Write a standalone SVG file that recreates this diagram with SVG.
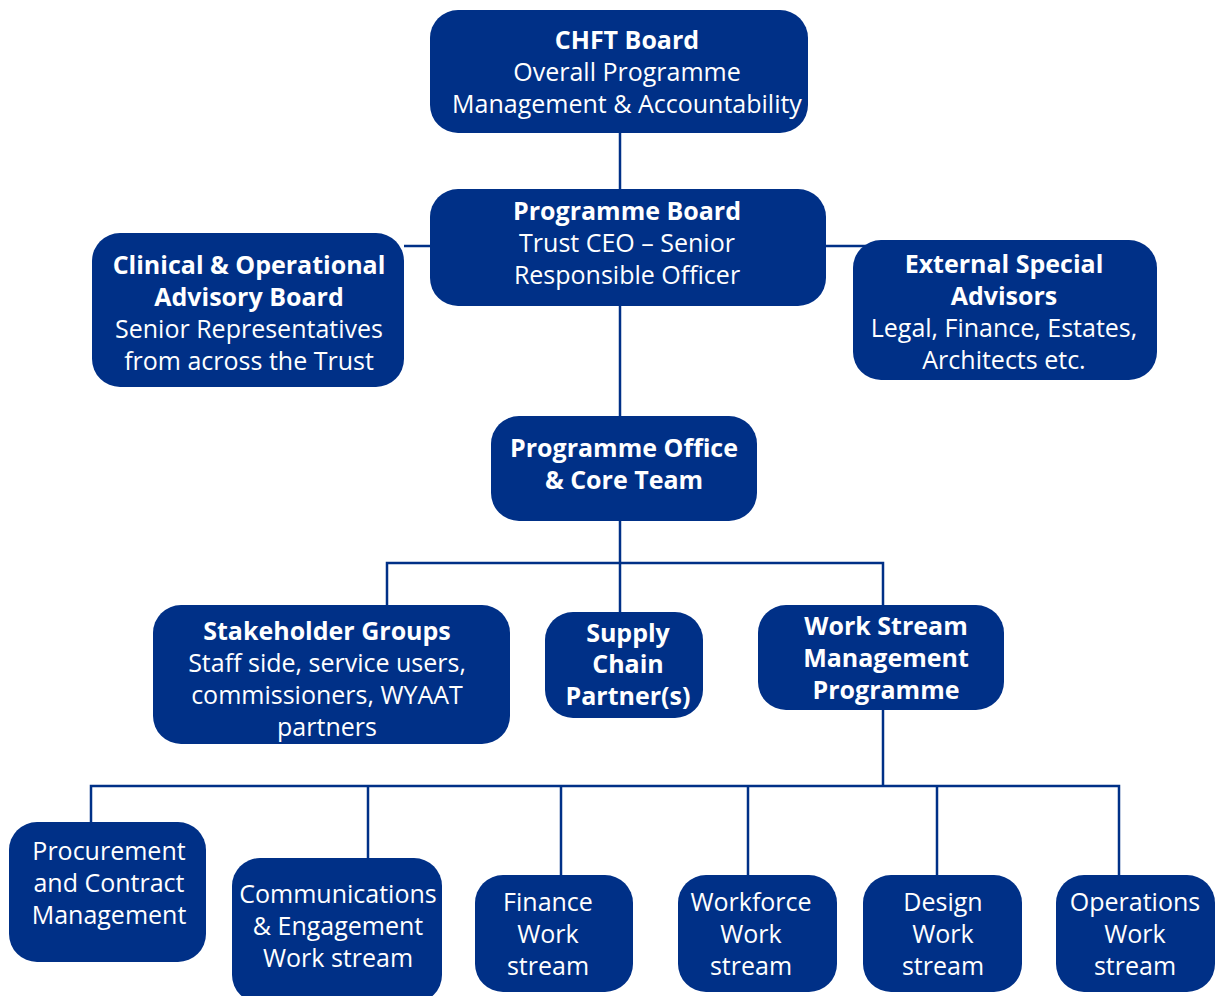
<svg xmlns="http://www.w3.org/2000/svg" width="1216" height="996" viewBox="0 0 1216 996">
<style>
.box{fill:#003087}
.t{font-family:"Open Sans","Noto Sans",sans-serif;font-size:25px;fill:#fff;text-anchor:middle}
.b{font-weight:bold}
.c{stroke:#003087;stroke-width:2.5;fill:none}
</style>
<rect width="1216" height="996" fill="#fff"/>
<g id="connectors" class="c">
<path d="M620 133V189"/>
<path d="M404 246H430"/>
<path d="M826 246H866"/>
<path d="M620 306V416"/>
<path d="M620 521V612"/>
<path d="M387 605V563H883V605"/>
<path d="M883 710V786"/>
<path d="M91 822V786H1119V875"/>
<path d="M368 786V858"/>
<path d="M561 786V875"/>
<path d="M748 786V875"/>
<path d="M937 786V875"/>
</g>
<g id="chft"><rect class="box" x="430" y="10" width="378" height="123" rx="28"/>
<text class="t" x="627" y="49"><tspan class="b">CHFT Board</tspan><tspan x="627" dy="32">Overall Programme</tspan><tspan x="627" dy="32">Management &amp; Accountability</tspan></text></g>
<g id="programme-board"><rect class="box" x="430" y="189" width="396" height="117" rx="28"/>
<text class="t" x="627" y="220"><tspan class="b">Programme Board</tspan><tspan x="627" dy="32">Trust CEO – Senior</tspan><tspan x="627" dy="32">Responsible Officer</tspan></text></g>
<g id="clinical"><rect class="box" x="92" y="233" width="312" height="154" rx="28"/>
<text class="t" x="249" y="274"><tspan class="b">Clinical &amp; Operational</tspan><tspan class="b" x="249" dy="32">Advisory Board</tspan><tspan x="249" dy="32">Senior Representatives</tspan><tspan x="249" dy="32">from across the Trust</tspan></text></g>
<g id="external"><rect class="box" x="853" y="240" width="304" height="140" rx="28"/>
<text class="t" x="1004" y="273"><tspan class="b">External Special</tspan><tspan class="b" x="1004" dy="32">Advisors</tspan><tspan x="1004" dy="32">Legal, Finance, Estates,</tspan><tspan x="1004" dy="32">Architects etc.</tspan></text></g>
<g id="programme-office"><rect class="box" x="491" y="416" width="266" height="105" rx="28"/>
<text class="t b" x="624" y="457">Programme Office<tspan x="624" dy="32">&amp; Core Team</tspan></text></g>
<g id="stakeholder"><rect class="box" x="153" y="605" width="357" height="139" rx="28"/>
<text class="t" x="327" y="640"><tspan class="b">Stakeholder Groups</tspan><tspan x="327" dy="32">Staff side, service users,</tspan><tspan x="327" dy="32">commissioners, WYAAT</tspan><tspan x="327" dy="32">partners</tspan></text></g>
<g id="supply"><rect class="box" x="545" y="612" width="158" height="106" rx="28"/>
<text class="t b" x="628" y="642">Supply<tspan x="628" dy="31">Chain</tspan><tspan x="628" dy="32">Partner(s)</tspan></text></g>
<g id="workstream-mgmt"><rect class="box" x="758" y="605" width="246" height="105" rx="28"/>
<text class="t b" x="886" y="635">Work Stream<tspan x="886" dy="32">Management</tspan><tspan x="886" dy="32">Programme</tspan></text></g>
<g id="procurement"><rect class="box" x="9" y="822" width="197" height="140" rx="28"/>
<text class="t" x="109" y="860">Procurement<tspan x="109" dy="32">and Contract</tspan><tspan x="109" dy="32">Management</tspan></text></g>
<g id="communications"><rect class="box" x="232" y="858" width="210" height="145" rx="28"/>
<text class="t" x="338" y="903">Communications<tspan x="338" dy="32">&amp; Engagement</tspan><tspan x="338" dy="32">Work stream</tspan></text></g>
<g id="finance"><rect class="box" x="475" y="875" width="158" height="117" rx="28"/>
<text class="t" x="548" y="911">Finance<tspan x="548" dy="32">Work</tspan><tspan x="548" dy="32">stream</tspan></text></g>
<g id="workforce"><rect class="box" x="678" y="875" width="159" height="117" rx="28"/>
<text class="t" x="751" y="911">Workforce<tspan x="751" dy="32">Work</tspan><tspan x="751" dy="32">stream</tspan></text></g>
<g id="design"><rect class="box" x="863" y="875" width="159" height="117" rx="28"/>
<text class="t" x="943" y="911">Design<tspan x="943" dy="32">Work</tspan><tspan x="943" dy="32">stream</tspan></text></g>
<g id="operations"><rect class="box" x="1056" y="875" width="159" height="117" rx="28"/>
<text class="t" x="1135" y="911">Operations<tspan x="1135" dy="32">Work</tspan><tspan x="1135" dy="32">stream</tspan></text></g>
</svg>
